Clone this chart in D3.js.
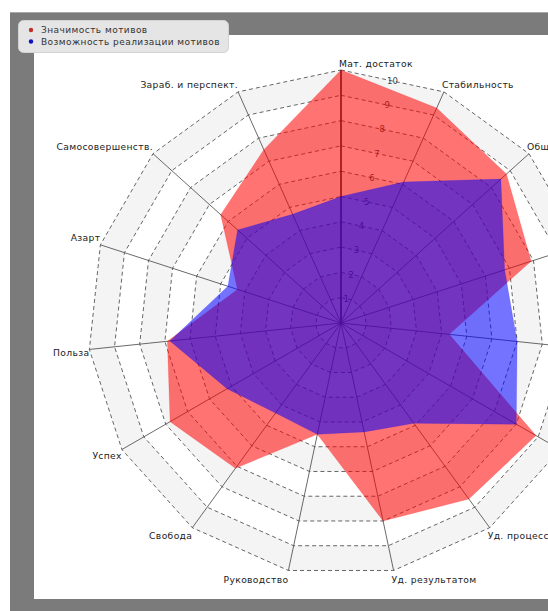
<!DOCTYPE html>
<html>
<head>
<meta charset="utf-8">
<script src="https://cdn.jsdelivr.net/npm/d3@7"></script>
<style>
  html, body { margin: 0; padding: 0; background: #fff; }
  svg { display: block; }
  text { font-family: "DejaVu Sans", Arial, sans-serif; }
</style>
</head>
<body>
<svg id="chart" width="548" height="611"></svg>
<script>
const categories = ["Мат. достаток", "Стабильность", "Общение", "Признание", "Коллектив",
  "Развитие", "Уд. процесса", "Уд. результатом", "Руководство", "Свобода", "Успех",
  "Польза", "Азарт", "Самосовершенств.", "Зараб. и перспект."];
const seriesNames = ["Значимость мотивов", "Возможность реализации мотивов"];
const importance = [10, 9.3, 8.8, 7.9, 4.3, 8.9, 8.6, 8.0, 4.5, 7.1, 7.8, 6.9, 4.3, 6.4, 7.5];
const possibility = [5.0, 6.1, 8.5, 6.8, 7.0, 8.0, 4.9, 4.4, 4.5, 4.4, 5.2, 6.8, 4.7, 5.5, 4.7];
const tickValues = [1, 2, 3, 4, 5, 6, 7, 8, 9, 10];
const seriesColors = ["#ff0000", "#0000ff"];

const svg = d3.select("#chart");
const W = 548, H = 611;
const cx = 341, cy = 323, R = 253;
const n = categories.length;
const step = 2 * Math.PI / n;

// frame
svg.append("rect").attr("x", 10).attr("y", 12).attr("width", W).attr("height", H)
  .attr("fill", "#7b7b7b");
svg.append("line").attr("x1", 10).attr("x2", W).attr("y1", 12.5).attr("y2", 12.5)
  .attr("stroke", "#a8a8a8").attr("stroke-width", 1);
svg.append("rect").attr("x", 34).attr("y", 35).attr("width", W).attr("height", 564)
  .attr("fill", "#ffffff");

const r = d3.scaleLinear().domain([0, 10]).range([0, R]);
const angle = d3.scaleLinear().domain([0, n]).range([0, 2 * Math.PI]);
const pt = (i, v) => [cx + r(v) * Math.sin(angle(i)), cy - r(v) * Math.cos(angle(i))];
const ringPts = v => d3.range(n).map(i => pt(i, v));
const line = d3.line().curve(d3.curveLinearClosed);

const g = svg.append("g");

// alternating bands (outer to inner)
tickValues.slice().reverse().forEach(v => {
  g.append("path").attr("d", line(ringPts(v)))
    .attr("fill", v % 2 === 0 ? "#f4f4f4" : "#ffffff");
});

// rings
tickValues.forEach(v => {
  g.append("path").attr("d", line(ringPts(v)))
    .attr("fill", "none").attr("stroke", "#555").attr("stroke-width", 0.9)
    .attr("stroke-dasharray", "4,3");
});

// spokes
d3.range(n).forEach(i => {
  const [x, y] = pt(i, 10);
  g.append("line").attr("x1", cx).attr("y1", cy).attr("x2", x).attr("y2", y)
    .attr("stroke", i === 0 ? "#222" : "#444").attr("stroke-width", i === 0 ? 1.6 : 0.8);
});

// tick labels along the first sector
tickValues.forEach(v => {
  const a = step / 2;
  const rr = r(v) * Math.cos(step / 2);
  g.append("text").attr("x", cx + rr * Math.sin(a)).attr("y", cy - rr * Math.cos(a))
    .attr("text-anchor", "middle").attr("dominant-baseline", "central")
    .attr("font-size", 8.5).attr("fill", "#444").text(v);
});

// series polygons
[importance, possibility].forEach((vals, k) => {
  g.append("path").attr("d", line(vals.map((v, i) => pt(i, v))))
    .attr("fill", seriesColors[k]).attr("fill-opacity", 0.55)
    .attr("stroke", seriesColors[k]).attr("stroke-opacity", 0.3).attr("stroke-width", 0.5);
});

// category labels
categories.forEach((c, i) => {
  const a = angle(i);
  const [vx, vy] = pt(i, 10);
  const s = Math.sin(a), co = Math.cos(a);
  const y = co > 0.01 ? vy - 7 : vy + 9 * Math.sqrt(Math.abs(co));
  const left = s < -0.01;
  g.append("text").attr("x", left ? vx : vx - 2).attr("y", y)
    .attr("text-anchor", left ? "end" : "start").attr("dominant-baseline", "central")
    .attr("font-size", 9.2).attr("letter-spacing", 0.35).attr("fill", "#222").text(c);
});

// legend
const lg = svg.append("g");
lg.append("rect").attr("x", 18.5).attr("y", 20.5).attr("width", 210).attr("height", 32)
  .attr("rx", 5).attr("fill", "#e5e5e6").attr("stroke", "#d2d2d2");
seriesNames.forEach((s, k) => {
  const y = 30 + k * 11.5;
  lg.append("circle").attr("cx", 31).attr("cy", y).attr("r", 2.2).attr("fill", k === 0 ? "#c0302a" : "#1010c0");
  lg.append("text").attr("x", 41).attr("y", y).attr("dominant-baseline", "central")
    .attr("font-size", 9).attr("letter-spacing", 0.45).attr("fill", "#333").text(s);
});
</script>
</body>
</html>
